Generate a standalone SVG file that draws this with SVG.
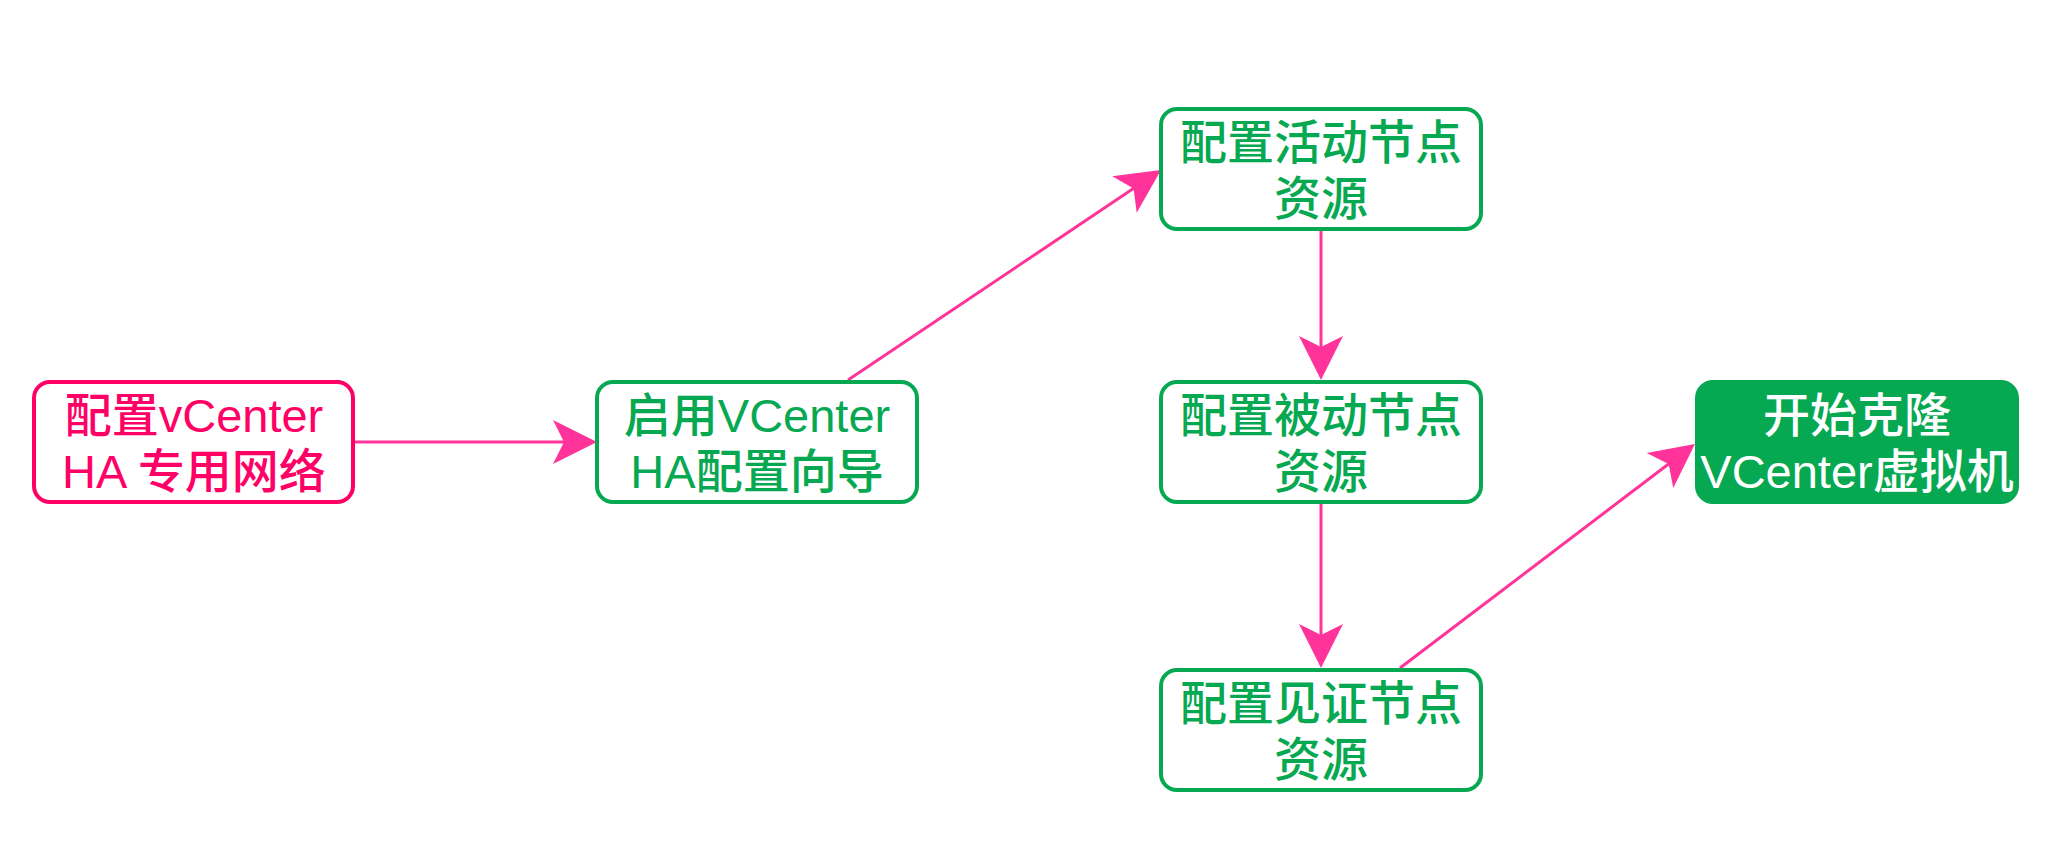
<svg xmlns="http://www.w3.org/2000/svg" width="2058" height="850" viewBox="0 0 2058 850">
<style>
.box{fill:#ffffff;stroke-width:4}
.pk{stroke:#FF0066}
.gr{stroke:#07A852}
.fill{fill:#07A852;stroke:#07A852;stroke-width:4}
text{font-family:"Liberation Sans","Noto Sans CJK SC",sans-serif;font-size:47px;font-weight:400;text-anchor:middle}
.c{font-weight:500}
.tpk{fill:#FF0066}
.tgr{fill:#07A852}
.twh{fill:#ffffff}
.edge{stroke:#FF3399;stroke-width:3;fill:none;marker-end:url(#arr)}
</style>
<defs>
<marker id="arr" markerUnits="userSpaceOnUse" markerWidth="46" markerHeight="46" refX="34" refY="22" orient="auto" overflow="visible">
<path d="M0,0 L44,22 L0,44 L11,22 Z" fill="#FF3399"/>
</marker>
</defs>
<rect width="2058" height="850" fill="#ffffff"/>
<g id="connectors">
<line class="edge" x1="355" y1="442" x2="587" y2="442"/>
<line class="edge" x1="848" y1="380" x2="1152.7" y2="175.6"/>
<line class="edge" x1="1321" y1="231" x2="1321" y2="370"/>
<line class="edge" x1="1321" y1="504" x2="1321" y2="658"/>
<line class="edge" x1="1400" y1="668" x2="1687" y2="450"/>
</g>
<g id="node1">
<rect class="box pk" x="34" y="382" width="319" height="120" rx="16"/>
<text class="tpk"><tspan x="194" y="432"><tspan class="c">配置</tspan>vCenter</tspan><tspan x="194" y="488">HA <tspan class="c">专用网络</tspan></tspan></text>
</g>
<g id="node2">
<rect class="box gr" x="597" y="382" width="320" height="120" rx="16"/>
<text class="tgr"><tspan x="757" y="432"><tspan class="c">启用</tspan>VCenter</tspan><tspan x="757" y="488">HA<tspan class="c">配置向导</tspan></tspan></text>
</g>
<g id="node3">
<rect class="box gr" x="1161" y="109" width="320" height="120" rx="16"/>
<text class="tgr c"><tspan x="1321" y="159">配置活动节点</tspan><tspan x="1321" y="215">资源</tspan></text>
</g>
<g id="node4">
<rect class="box gr" x="1161" y="382" width="320" height="120" rx="16"/>
<text class="tgr c"><tspan x="1321" y="432">配置被动节点</tspan><tspan x="1321" y="488">资源</tspan></text>
</g>
<g id="node5">
<rect class="box gr" x="1161" y="670" width="320" height="120" rx="16"/>
<text class="tgr c"><tspan x="1321" y="720">配置见证节点</tspan><tspan x="1321" y="776">资源</tspan></text>
</g>
<g id="node6">
<rect class="fill" x="1697" y="382" width="320" height="120" rx="16"/>
<text class="twh"><tspan class="c" x="1857" y="432">开始克隆</tspan><tspan x="1857" y="488">VCenter<tspan class="c">虚拟机</tspan></tspan></text>
</g>
</svg>
